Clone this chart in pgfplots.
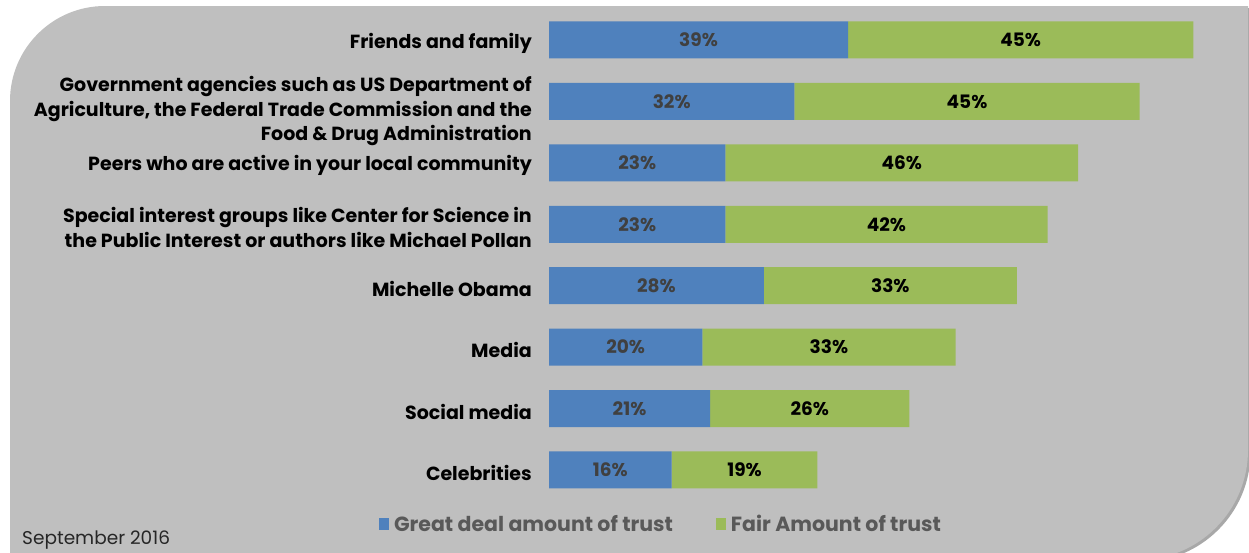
\documentclass[border=0pt]{standalone}
\usepackage{pgfplots}
\pgfplotsset{compat=1.18}
\usepackage{fontspec}
\setmainfont{Poppins}
\definecolor{bgc}{HTML}{BFBFBF}
\definecolor{shc}{HTML}{A8A8A8}
\definecolor{bluec}{HTML}{4F81BD}
\definecolor{greenc}{HTML}{9BBB59}
\definecolor{lblc}{HTML}{404040}
\definecolor{legc}{HTML}{595959}
\newcommand\govlabel{Government agencies such as US Department of\\Agriculture, the Federal Trade Commission and the\\Food \& Drug Administration}
\pgfplotsset{
  chartgeom/.style={
    at={(549pt,-500.7pt)}, anchor=south west,
    x=7.67pt, y=61.43pt,
    xmin=0, xmax=91, ymin=-0.5, ymax=7.5,
    clip=false,
  }
}
\begin{document}
\begin{tikzpicture}
\useasboundingbox (0,0) rectangle (1249pt,-552pt);
\clip (0,0) rectangle (1249pt,-552pt);
\fill[white] (0,0) rectangle (1249pt,-552pt);
% shadow
\fill[shc] (12pt,-562pt) -- (12pt,-103pt) arc[start angle=180,end angle=90,radius=95pt] -- (1250.5pt,-8pt) -- (1250.5pt,-452pt) arc[start angle=0,end angle=-90,radius=110pt] -- cycle;
% background
\fill[bgc] (10pt,-560pt) -- (10pt,-101pt) arc[start angle=180,end angle=90,radius=95pt] -- (1248pt,-6pt) -- (1248pt,-450pt) arc[start angle=0,end angle=-90,radius=110pt] -- cycle;
\node[anchor=base west, font=\fontsize{18.5}{20}\selectfont, text=black!85, inner sep=0pt] at (22pt,-544pt) {September 2016};
\begin{axis}[
  chartgeom,
  xbar stacked, bar width=37pt,
  axis line style={draw=none},
  major tick style={draw=none},
  xtick=\empty,
  ytick={0,1,2,3,4,5,7},
  yticklabels={{Celebrities},{Social media},{Media},{Michelle Obama},
    {Special interest groups like Center for Science in\\the Public Interest or authors like Michael Pollan},
    {Peers who are active in your local community},
    {Friends and family}},
  extra y ticks={6},
  extra y tick labels={\govlabel},
  extra y tick style={yticklabel style={yshift=-7pt}},
  yticklabel style={align=right, anchor=east, inner sep=0pt, xshift=-17pt, yshift=-3pt,
    font=\fontsize{19}{24.5}\selectfont\bfseries, text=black},
  legend style={at={(axis cs:14.6,-0.88)}, anchor=center, draw=none, fill=none,
    legend columns=2, font=\fontsize{20.5}{22}\selectfont\bfseries, text=legc,
    /tikz/every even column/.append style={column sep=41pt},
    legend cell align=left},
  legend image code/.code={\fill[#1] (0pt,-6pt) rectangle (10pt,6pt); \path (13pt,0pt);},
]
\addplot[fill=bluec, draw=none] coordinates {
(16,0) (21,1) (20,2) (28,3) (23,4) (23,5) (32,6) (39,7)};
\addplot[fill=greenc, draw=none] coordinates {
(19,0) (26,1) (33,2) (33,3) (42,4) (46,5) (45,6) (45,7)};
\legend{Great deal amount of trust, Fair Amount of trust}
\end{axis}
% value labels, placed at the middle of each segment
\begin{axis}[
  chartgeom, hide axis,
  nodes near coords, point meta=explicit symbolic,
  every node near coord/.style={anchor=center, inner sep=0pt,
    font=\fontsize{18.5}{20}\selectfont\bfseries},
]
\addplot[draw=none, mark=none, every node near coord/.append style={text=lblc}] coordinates {
(8,0) [16\%] (10.5,1) [21\%] (10,2) [20\%] (14,3) [28\%]
(11.5,4) [23\%] (11.5,5) [23\%] (16,6) [32\%] (19.5,7) [39\%]};
\addplot[draw=none, mark=none, every node near coord/.append style={text=black}] coordinates {
(25.5,0) [19\%] (34,1) [26\%] (36.5,2) [33\%] (44.5,3) [33\%]
(44,4) [42\%] (46,5) [46\%] (54.5,6) [45\%] (61.5,7) [45\%]};
\end{axis}
\end{tikzpicture}
\end{document}
